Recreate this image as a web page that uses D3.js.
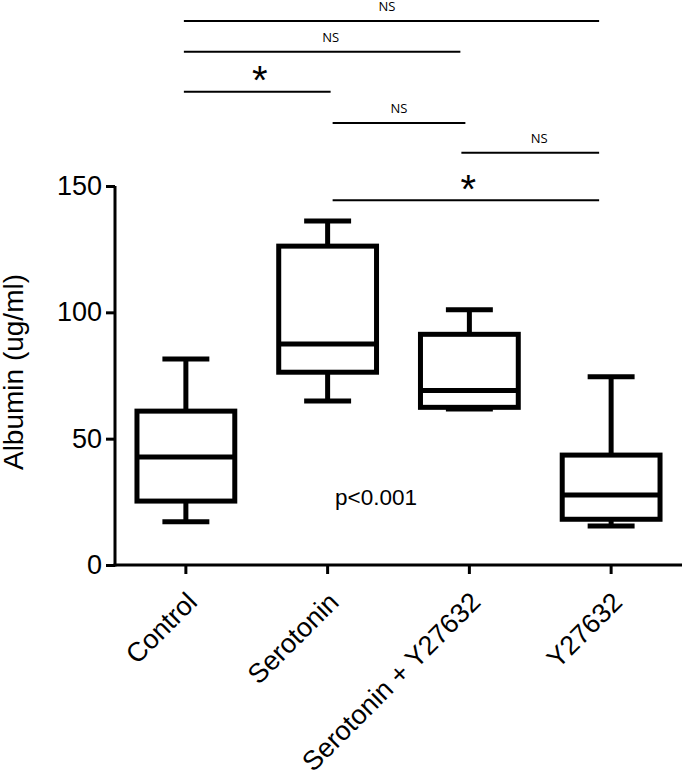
<!DOCTYPE html>
<html>
<head>
<meta charset="utf-8">
<script src="https://cdn.jsdelivr.net/npm/d3@7"></script>
<style>
  html, body { margin: 0; padding: 0; background: #fff; }
  svg { display: block; }
  text { font-family: "Liberation Sans", Arial, sans-serif; fill: #000; }
</style>
</head>
<body>
<svg id="chart" width="685" height="771"></svg>
<script>
// ---- data ----
const categories = ["Control", "Serotonin", "Serotonin + Y27632", "Y27632"];
const whiskerMin = [17.1, 64.9, 61.7, 15.4];
const q1        = [25.3, 76.3, 62.4, 18.1];
const median    = [42.7, 87.5, 69.1, 27.7];
const q3        = [60.9, 126.2, 91.3, 43.5];
const whiskerMax = [81.5, 136.1, 101.0, 74.5];
const yTicks = [0, 50, 100, 150];
const yLabel = "Albumin (ug/ml)";
const pText = "p<0.001";
// significance brackets: from group, to group, level (in y units), label
const bracketFrom  = [0, 0, 0, 1, 2, 1];
const bracketTo    = [3, 2, 1, 2, 3, 3];
const bracketLevel = [215.3, 203.1, 187.3, 174.9, 163.2, 144.4];
const bracketLabel = ["NS", "NS", "*", "NS", "NS", "*"];

// ---- layout ----
const svg = d3.select("#chart");
const x0 = 115, x1 = 682, yBottom = 565, yTop = 186;

const x = d3.scaleBand().domain(categories).range([x0, x1]).paddingInner(0).paddingOuter(0);
const y = d3.scaleLinear().domain([0, 150]).range([yBottom, yTop]);
const cx = i => x(categories[i]) + x.bandwidth() / 2;

// axes
const yAxis = d3.axisLeft(y).tickValues(yTicks).tickSize(9).tickPadding(4);
const gy = svg.append("g").attr("transform", `translate(${x0},0)`).call(yAxis);
gy.select(".domain").attr("stroke-width", 3).attr("d", `M0,${yTop}V${yBottom + 1.5}`);
gy.selectAll(".tick line").attr("stroke-width", 3);
gy.selectAll(".tick text").style("font-size", "27px").style("font-family", "Liberation Sans, Arial, sans-serif").attr("fill", "#000");

const xAxis = d3.axisBottom(x).tickSize(9).tickFormat("");
const gx = svg.append("g").attr("transform", `translate(0,${yBottom})`).call(xAxis);
gx.select(".domain").attr("stroke-width", 3).attr("d", `M${x0 - 1.5},0H${x1}`);
gx.selectAll(".tick line").attr("stroke-width", 3);

// rotated x labels
svg.append("g").selectAll("text").data(categories).join("text")
  .attr("transform", d => `translate(${x(d) + x.bandwidth() / 2 - 1},${yBottom + 25}) rotate(-45)`)
  .attr("text-anchor", "end")
  .attr("dy", "0.72em")
  .style("font-size", "27px")
  .text(d => d);

// y label
svg.append("text")
  .attr("transform", `translate(23,${372}) rotate(-90)`)
  .attr("text-anchor", "middle")
  .style("font-size", "28px")
  .text(yLabel);

// boxes
const bw = x.bandwidth() * 0.69;
const capW = bw * 0.48;
const g = svg.append("g").attr("stroke", "#000").attr("stroke-width", 5).attr("fill", "none");
categories.forEach((c, i) => {
  const c0 = cx(i);
  g.append("line").attr("x1", c0).attr("x2", c0).attr("y1", y(q3[i])).attr("y2", y(whiskerMax[i]));
  g.append("line").attr("x1", c0).attr("x2", c0).attr("y1", y(q1[i])).attr("y2", y(whiskerMin[i]));
  g.append("line").attr("x1", c0 - capW / 2).attr("x2", c0 + capW / 2).attr("y1", y(whiskerMax[i])).attr("y2", y(whiskerMax[i]));
  g.append("line").attr("x1", c0 - capW / 2).attr("x2", c0 + capW / 2).attr("y1", y(whiskerMin[i])).attr("y2", y(whiskerMin[i]));
  g.append("rect").attr("x", c0 - bw / 2).attr("width", bw)
    .attr("y", y(q3[i])).attr("height", y(q1[i]) - y(q3[i])).attr("fill", "#fff");
  g.append("line").attr("x1", c0 - bw / 2).attr("x2", c0 + bw / 2).attr("y1", y(median[i])).attr("y2", y(median[i]));
});

// p text
svg.append("text").attr("x", 376).attr("y", y(24) + 1).attr("text-anchor", "middle")
  .style("font-size", "22.5px").text(pText);

// brackets (layout adjustments for line ends and label shifts)
const startAdj = [-2, 5, -8, -12];
const endAdj   = [0, 3, -9, -12];
const endAdjAlt = { 3: -4 };          // bracket index -> end adjustment override
const labelShift = [-4.5, 8.5, 2.5, 0, 9, 2.5];
const bg = svg.append("g");
bracketFrom.forEach((f, k) => {
  const t = bracketTo[k];
  const xa = cx(f) + startAdj[f];
  const xb = cx(t) + (endAdjAlt[k] !== undefined ? endAdjAlt[k] : endAdj[t]);
  const yy = y(bracketLevel[k]);
  bg.append("line").attr("x1", xa).attr("x2", xb).attr("y1", yy).attr("y2", yy)
    .attr("stroke", "#000").attr("stroke-width", 2);
  const lab = bracketLabel[k];
  const mx = (xa + xb) / 2 + labelShift[k];
  if (lab === "*") {
    bg.append("text").attr("x", mx).attr("y", yy + 2.5)
      .attr("text-anchor", "middle").style("font-size", "40px").text(lab);
  } else {
    bg.append("text").attr("x", mx).attr("y", yy - 10)
      .attr("text-anchor", "middle").style("font-size", "13px")
      .style("font-family", "'Open Sans', 'Liberation Sans', sans-serif").text(lab);
  }
});
</script>
</body>
</html>
